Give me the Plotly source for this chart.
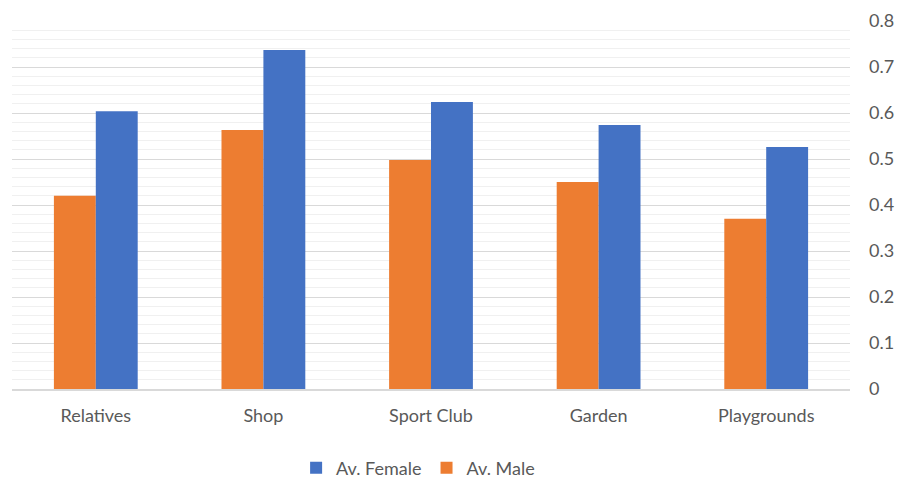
import plotly.graph_objects as go

categories = ["Relatives", "Shop", "Sport Club", "Garden", "Playgrounds"]
av_male = [0.42, 0.563, 0.498, 0.45, 0.37]
av_female = [0.604, 0.737, 0.624, 0.574, 0.526]
y_ticks = [0, 0.1, 0.2, 0.3, 0.4, 0.5, 0.6, 0.7, 0.8]
y_tick_text = ["0", "0.1", "0.2", "0.3", "0.4", "0.5", "0.6", "0.7", "0.8"]

FONT = "Lato, Calibri, Carlito, sans-serif"
TEXT_COLOR = "#595959"

fig = go.Figure()
fig.add_trace(go.Bar(name="Av. Male", x=categories, y=av_male,
                     marker=dict(color="#ED7D31", line=dict(width=0))))
fig.add_trace(go.Bar(name="Av. Female", x=categories, y=av_female,
                     marker=dict(color="#4472C4", line=dict(width=0))))

fig.update_layout(
    width=905, height=478,
    margin=dict(l=12, r=55, t=21, b=89, autoexpand=False),
    paper_bgcolor="white", plot_bgcolor="white",
    barmode="group", bargap=0.5, bargroupgap=0,
    font=dict(family=FONT, size=18, color=TEXT_COLOR),
    legend=dict(orientation="h", traceorder="reversed",
                x=0.462, xanchor="center", xref="container",
                y=0.021, yanchor="middle", yref="container",
                font=dict(size=18, color=TEXT_COLOR),
                itemwidth=30),
    xaxis=dict(showgrid=False, showline=True, linecolor="#d9d9d9", linewidth=1.5,
               ticks="", ticklabelstandoff=10,
               tickfont=dict(size=18, color=TEXT_COLOR)),
    yaxis=dict(side="right", range=[0, 0.8], tickvals=y_ticks, ticktext=y_tick_text,
               showgrid=True, gridcolor="#d9d9d9", gridwidth=1,
               minor=dict(dtick=0.02, showgrid=True, gridcolor="#f0f0f0", gridwidth=1),
               zeroline=False, showline=False, ticks="",
               ticklabelstandoff=18,
               tickfont=dict(size=18, color=TEXT_COLOR)),
)

fig.write_html("out.html")
